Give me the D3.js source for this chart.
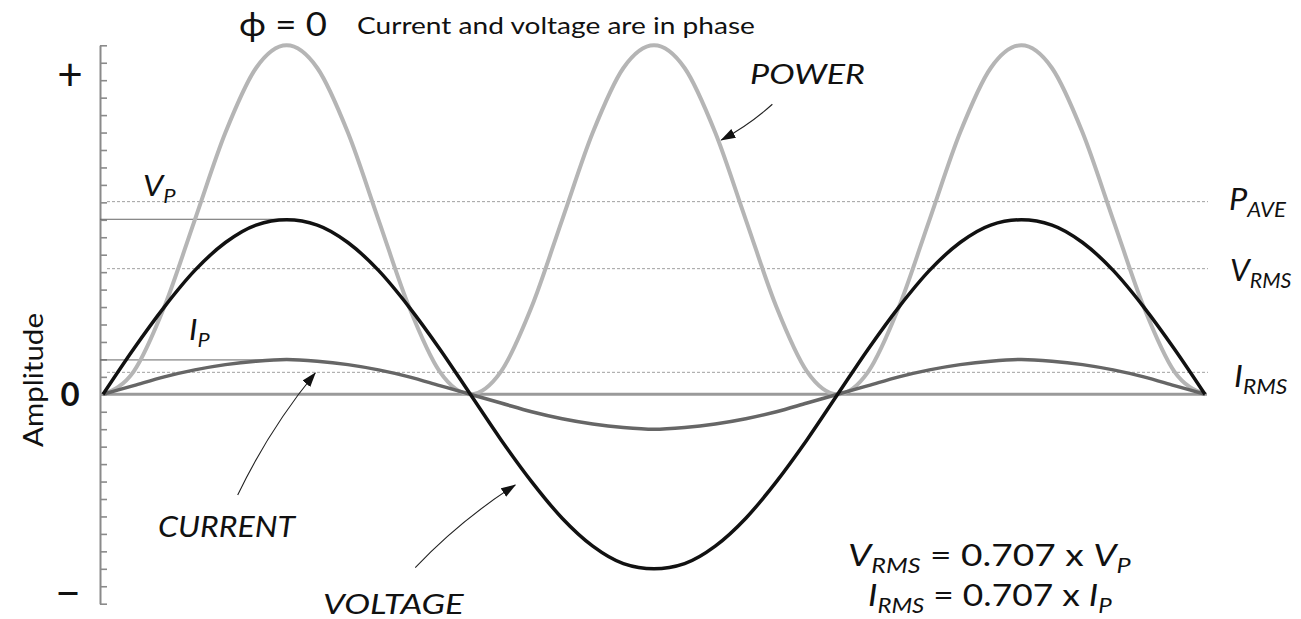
<!DOCTYPE html>
<html>
<head>
<meta charset="utf-8">
<script src="https://cdn.jsdelivr.net/npm/d3@7"></script>
<style>
    body { margin: 0; background: #fff; }
    svg { display: block; font-family: Lato, "Open Sans", sans-serif; }
</style>
</head>
<body>
<svg id="chart" width="1301" height="619"></svg>
<script>
// phase angle (degrees), read every 15 deg over one and a half cycles
const phase = [0, 15, 30, 45, 60, 75, 90, 105, 120, 135, 150, 165, 180,
    195, 210, 225, 240, 255, 270, 285, 300, 315, 330, 345, 360,
    375, 390, 405, 420, 435, 450, 465, 480, 495, 510, 525, 540];

const voltage = [0, 2.6, 5, 7.1, 8.7, 9.7, 10, 9.7, 8.7, 7.1, 5, 2.6, 0,
    -2.6, -5, -7.1, -8.7, -9.7, -10, -9.7, -8.7, -7.1, -5, -2.6, 0,
    2.6, 5, 7.1, 8.7, 9.7, 10, 9.7, 8.7, 7.1, 5, 2.6, 0];

const current = [0, 0.5, 1, 1.4, 1.7, 1.9, 2, 1.9, 1.7, 1.4, 1, 0.5, 0,
    -0.5, -1, -1.4, -1.7, -1.9, -2, -1.9, -1.7, -1.4, -1, -0.5, 0,
    0.5, 1, 1.4, 1.7, 1.9, 2, 1.9, 1.7, 1.4, 1, 0.5, 0];

const power = [0, 1.3, 5, 10, 15, 18.7, 20, 18.7, 15, 10, 5, 1.3, 0,
    1.3, 5, 10, 15, 18.7, 20, 18.7, 15, 10, 5, 1.3, 0,
    1.3, 5, 10, 15, 18.7, 20, 18.7, 15, 10, 5, 1.3, 0];

// minor ticks on the amplitude axis
const yTicks = [-12, -11, -10, -9, -8, -7, -6, -5, -4, -3, -2, -1, 0,
    1, 2, 3, 4, 5, 6, 7, 8, 9, 10, 11, 12, 13, 14, 15, 16, 17, 18, 19, 20];

// peak levels (solid) and averaged levels (dotted)
const peakNames = ["VP", "IP"];
const peakLevels = [10.03, 1.97];
const refNames = ["PAVE", "VRMS", "IRMS"];
const refLevels = [11.04, 7.2, 1.26];

// axis sign labels
const signLabels = ["+", "0", "\u2212"];
const signValues = [18.3, 0, -11.4];

// arrows: [phase, amplitude] of tail and tip
const arrowNames = ["CURRENT", "VOLTAGE", "POWER"];
const arrowTails = [[66, -5.77], [153, -9.93], [328, 16.62]];
const arrowTips = [[104, 1.22], [202, -5.2], [303, 14.57]];

const svg = d3.select("#chart");

const x = d3.scaleLinear().domain([0, 540]).range([103, 1205]);
const y = d3.scaleLinear().domain([-12, 20]).range([603.7, 45.3]);

// amplitude axis
svg.append("g")
    .attr("transform", "translate(100,0)")
    .call(d3.axisRight(y).tickValues(yTicks).tickSize(7).tickSizeOuter(0).tickFormat(""))
    .call(g => g.select(".domain").attr("stroke", "#8a8a8a").attr("stroke-width", 2))
    .call(g => g.selectAll(".tick line").attr("stroke", "#8a8a8a").attr("stroke-width", 1.6));

// level lines
svg.selectAll(".ref")
    .data(refLevels)
    .join("line")
    .attr("x1", 107).attr("x2", 1208)
    .attr("y1", d => y(d)).attr("y2", d => y(d))
    .attr("stroke", "#a0a0a0")
    .attr("stroke-width", 1)
    .attr("stroke-dasharray", "3,2");

svg.selectAll(".peak")
    .data(peakLevels)
    .join("line")
    .attr("x1", 100).attr("x2", x(90))
    .attr("y1", d => y(d)).attr("y2", d => y(d))
    .attr("stroke", "#666")
    .attr("stroke-width", 1);

// zero line
svg.append("line")
    .attr("x1", 100).attr("x2", 1207)
    .attr("y1", y(0)).attr("y2", y(0))
    .attr("stroke", "#9a9a9a")
    .attr("stroke-width", 3);

function wave(values) {
    return d3.line()
        .curve(d3.curveMonotoneX)
        .x((d, i) => x(phase[i]))
        .y(d => y(d))(values);
}

svg.append("path").attr("d", wave(power))
    .attr("fill", "none").attr("stroke", "#b5b5b5").attr("stroke-width", 4);
svg.append("path").attr("d", wave(current))
    .attr("fill", "none").attr("stroke", "#666").attr("stroke-width", 3.5);
svg.append("path").attr("d", wave(voltage))
    .attr("fill", "none").attr("stroke", "#111").attr("stroke-width", 3.5);

// arrows
svg.append("defs").append("marker")
    .attr("id", "head")
    .attr("markerUnits", "userSpaceOnUse")
    .attr("markerWidth", 16).attr("markerHeight", 12)
    .attr("refX", 14).attr("refY", 5)
    .attr("orient", "auto")
    .append("path")
    .attr("d", "M0,0L15,5L0,10Z")
    .attr("fill", "#111");

arrowNames.forEach((name, i) => {
    const [x0, y0] = [x(arrowTails[i][0]), y(arrowTails[i][1])];
    const [x1, y1] = [x(arrowTips[i][0]), y(arrowTips[i][1])];
    const mx = (x0 + x1) / 2 + (y1 - y0) * 0.06;
    const my = (y0 + y1) / 2 - (x1 - x0) * 0.06;
    svg.append("path")
        .attr("d", `M${x0},${y0}Q${mx},${my} ${x1},${y1}`)
        .attr("fill", "none")
        .attr("stroke", "#222")
        .attr("stroke-width", 1.1)
        .attr("marker-end", "url(#head)");
});

// stretch a text horizontally so it spans the same width as in the original
function fitWidth(t, width) {
    const b = t.node().getBBox();
    const k = width / b.width;
    t.attr("transform", `translate(${b.x},0) scale(${k},1) translate(${-b.x},0)`);
    return t;
}

// text with subscripts: parts = [[text, isSub, italic], ...]
function label(px, py, parts, size, italic) {
    const t = svg.append("text")
        .attr("x", px).attr("y", py)
        .attr("font-size", size)
        .attr("fill", "#111")
        .style("font-style", italic ? "italic" : "normal");
    let lowered = false;
    parts.forEach(([s, sub, it]) => {
        const sp = t.append("tspan").text(s);
        if (it) sp.style("font-style", "italic");
        if (sub) {
            sp.attr("font-size", size * 0.68);
            if (!lowered) { sp.attr("dy", size * 0.24); lowered = true; }
        } else if (lowered) {
            sp.attr("dy", -size * 0.24);
            lowered = false;
        }
    });
    return t;
}

// title
fitWidth(svg.append("text").attr("x", 239).attr("y", 36)
    .attr("font-size", 33).attr("fill", "#111")
    .text("\u03D5 = 0"), 88);
fitWidth(svg.append("text").attr("x", 357).attr("y", 34)
    .attr("font-size", 23).attr("fill", "#111")
    .text("Current and voltage are in phase"), 398);

// y axis title
svg.append("text")
    .attr("transform", `translate(43,380) rotate(-90)`)
    .attr("text-anchor", "middle")
    .attr("font-size", 26).attr("fill", "#111")
    .attr("textLength", 134)
    .attr("lengthAdjust", "spacingAndGlyphs")
    .text("Amplitude");

svg.selectAll(".sign")
    .data(signLabels)
    .join("text")
    .attr("x", (d, i) => i === 2 ? 68 : 70)
    .attr("y", (d, i) => y(signValues[i]))
    .attr("dy", "0.35em")
    .attr("text-anchor", "middle")
    .attr("font-size", (d, i) => i === 1 ? 33 : 44)
    .attr("font-weight", (d, i) => i === 1 ? "bold" : "normal")
    .attr("fill", "#111")
    .text(d => d);

// level labels
fitWidth(label(143, 196, [["V"], ["P", true]], 28, true), 33);
fitWidth(label(189, 340, [["I"], ["P", true]], 28, true), 21);
fitWidth(label(1229, 210, [["P"], ["AVE", true]], 30, true), 58);
fitWidth(label(1230, 281, [["V"], ["RMS", true]], 30, true), 62);
fitWidth(label(1234, 387, [["I"], ["RMS", true]], 30, true), 54);

// curve names
fitWidth(label(158, 537, [["CURRENT"]], 28, true), 139);
fitWidth(label(323, 614, [["VOLTAGE"]], 28, true), 142);
fitWidth(label(750, 84, [["POWER"]], 28, true), 115);

// formulas
fitWidth(label(848, 566, [["V", false, true], ["RMS", true, true], [" = 0.707 x "], ["V", false, true], ["P", true, true]], 31, false), 283);
fitWidth(label(868, 606, [["I", false, true], ["RMS", true, true], [" = 0.707 x "], ["I", false, true], ["P", true, true]], 31, false), 244);
</script>
</body>
</html>
